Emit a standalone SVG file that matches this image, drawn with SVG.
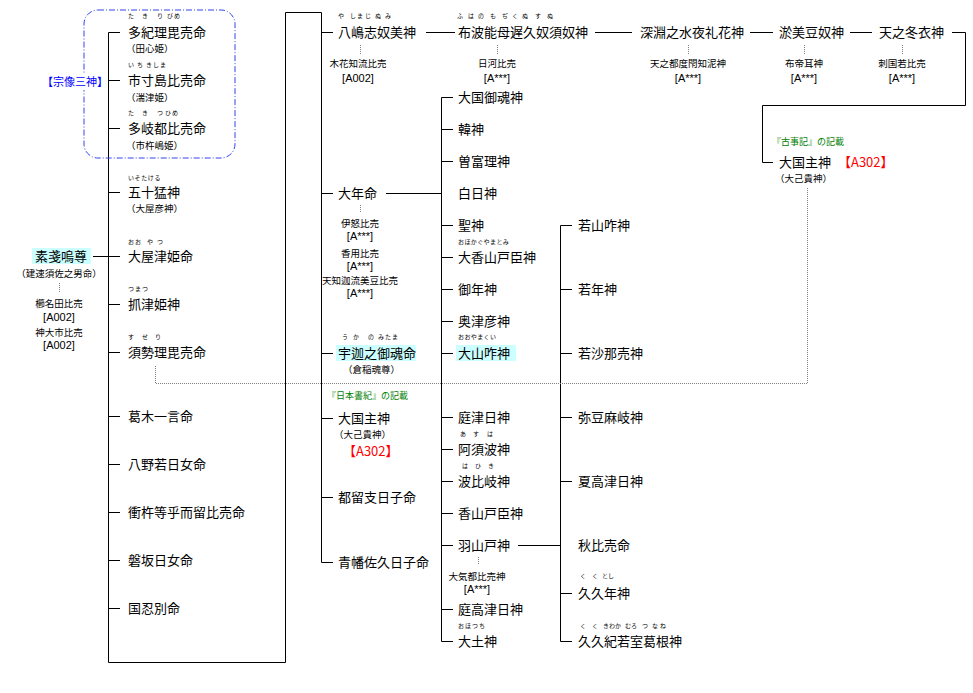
<svg xmlns="http://www.w3.org/2000/svg" width="973" height="693" viewBox="0 0 973 693">
<style>
text{font-family:"Noto Sans CJK JP","Noto Sans CJK SC",sans-serif;fill:#000}
.m{font-size:13px}
.s{font-size:9.5px}
.k{font-family:"Liberation Sans",Arial,sans-serif;font-size:11px}
.c{text-anchor:middle}
.r{font-size:6px}
.g{font-size:9px;fill:#008000}
.red{font-size:13px;fill:#ff0000}
.blue{font-size:11px;fill:#0000ff}
.hl{fill:#ccffff}
.ln{fill:none;stroke:#000;stroke-width:1}
.dot{fill:none;stroke:#808080;stroke-width:1;stroke-dasharray:1 1}
</style>
<rect width="973" height="693" fill="#fff"/>

<g id="connectors">
<path class="ln" d="M120 32.5H108.5V662.5H285.5V12.5H321.5V562.5H333
M108 80.5H120M108 128.5H120M108 192.5H120M93 256.5H120M108 304.5H120M108 352.5H120M108 416.5H120M108 464.5H120M108 512.5H120M108 560.5H120M108 608.5H120
M321 32.5H333M321 193.5H333M321 353.5H333M321 418.5H333M321 497.5H333
M386 193.5H441
M453 97.5H441.5V641.5H453
M441 129.5H453M441 161.5H453M441 225.5H453M441 257.5H453M441 289.5H453M441 321.5H453M441 353.5H453M441 417.5H453M441 449.5H453M441 481.5H453M441 513.5H453M441 545.5H453M441 609.5H453
M518 545.5H560
M572 225.5H560.5V641.5H572
M560 289.5H572M560 353.5H572M560 417.5H572M560 481.5H572M560 593.5H572
M426 32.5H455M595 32.5H632M750 32.5H773M850 32.5H872
M952 32.5H965.5V105.5H762.5V162.5H773"/>
<path class="dot" d="M360.5 45V55M497.5 45V55M688.5 45V55M804.5 45V55M902.5 45V55M360.5 205V213M478.5 557V565M59.5 283V293M807.5 188V383.5H155.5V365"/>
</g>

<g id="munakata">
<rect x="84" y="10" width="151" height="148" rx="14" fill="none" stroke="#3344ee" stroke-width="1" stroke-dasharray="6 2 1 2"/>
<rect x="40" y="74" width="62" height="16" fill="#fff"/>
<text class="blue" x="42" y="86">【宗像三神】</text>
</g>

<g id="susanoo">
<rect class="hl" x="32" y="248" width="59" height="16"/>
<text class="m c" x="61" y="261">素戔嗚尊</text>
<text class="s c" x="59" y="277">（建速須佐之男命）</text>
<text class="s c" x="59" y="307">櫛名田比売</text>
<text class="k c" x="59" y="321">[A002]</text>
<text class="s c" x="59" y="336">神大市比売</text>
<text class="k c" x="59" y="349">[A002]</text>
</g>

<g id="tagiri"><text class="r" x="128 142 157 167 174" y="18">たきりびめ</text><text class="m" x="128" y="37">多紀理毘売命</text><text class="s" x="126" y="52">（田心姫）</text></g>
<g id="ichikishima"><text class="r" x="128 137 146 153 160" y="67">いちきしま</text><text class="m" x="128" y="85">市寸島比売命</text><text class="s" x="126" y="101">（湍津姫）</text></g>
<g id="tagitsu"><text class="r" x="128 142 157 165 172" y="115">たきつひめ</text><text class="m" x="128" y="133">多岐都比売命</text><text class="s" x="126" y="149">（市杵嶋姫）</text></g>
<g id="isotakeru"><text class="r" x="128 134.6 141.2 147.8 154.4" y="180">いそたける</text><text class="m" x="128" y="197">五十猛神</text><text class="s" x="126" y="212">（大屋彦神）</text></g>
<g id="ooyatsu"><text class="r" x="128 135 147 157" y="244">おおやつ</text><text class="m" x="128" y="261">大屋津姫命</text></g>
<g id="tsumatsu"><text class="r" x="128 135 142" y="291">つまつ</text><text class="m" x="128" y="309">抓津姫神</text></g>
<g id="suseri"><text class="r" x="128 142 155" y="339">すせり</text><text class="m" x="128" y="357">須勢理毘売命</text></g>
<g id="katsuragi"><text class="m" x="128" y="421">葛木一言命</text></g>
<g id="yanowaka"><text class="m" x="128" y="469">八野若日女命</text></g>
<g id="tsukine"><text class="m" x="128" y="517">衝杵等乎而留比売命</text></g>
<g id="iwasaka"><text class="m" x="128" y="565">磐坂日女命</text></g>
<g id="kunioshiwake"><text class="m" x="128" y="613">国忍別命</text></g>

<g id="yashimajinumi"><text class="r" x="338 350 357 365 375 385" y="18">やしまじぬみ</text><text class="m" x="338" y="37">八嶋志奴美神</text><text class="s c" x="358" y="67">木花知流比売</text><text class="k c" x="358" y="82">[A002]</text></g>
<g id="fuhanomoji"><text class="r" x="457 468 478 490 502 512 522 535 547" y="18">ふはのもぢくぬすぬ</text><text class="m" x="458" y="37">布波能母遅久奴須奴神</text><text class="s c" x="497" y="67">日河比売</text><text class="k c" x="497" y="82">[A***]</text></g>
<g id="fukabuchi"><text class="m" x="640" y="37">深淵之水夜礼花神</text><text class="s c" x="688" y="67">天之都度閇知泥神</text><text class="k c" x="688" y="82">[A***]</text></g>
<g id="omizunu"><text class="m" x="779" y="37">淤美豆奴神</text><text class="s c" x="804" y="67">布帝耳神</text><text class="k c" x="804" y="82">[A***]</text></g>
<g id="amenofuyukinu"><text class="m" x="879" y="37">天之冬衣神</text><text class="s c" x="902" y="67">刺国若比売</text><text class="k c" x="902" y="82">[A***]</text></g>
<g id="okuninushi-kojiki"><text class="g" x="772" y="144.5">『古事記』の記載</text><text class="m" x="779" y="167">大国主神</text><text class="red" x="838" y="167">【A302】</text><text class="s" x="775" y="182">（大己貴神）</text></g>

<g id="otoshi"><text class="m" x="338" y="198">大年命</text><text class="s c" x="360" y="227">伊怒比売</text><text class="k c" x="360" y="240">[A***]</text><text class="s c" x="360" y="257">香用比売</text><text class="k c" x="360" y="270">[A***]</text><text class="s c" x="360" y="284">天知迦流美豆比売</text><text class="k c" x="360" y="297">[A***]</text></g>
<g id="ukanomitama"><rect class="hl" x="336" y="345" width="80" height="16"/><text class="r" x="342 353 368 378 385 392" y="339">うかのみたま</text><text class="m" x="338" y="358">宇迦之御魂命</text><text class="s" x="343" y="373">（倉稲魂尊）</text></g>
<g id="okuninushi-shoki"><text class="g" x="327" y="398.5">『日本書紀』の記載</text><text class="m" x="338" y="423">大国主神</text><text class="s" x="334" y="438">（大己貴神）</text><text class="red" x="343" y="456">【A302】</text></g>
<g id="tsurugi"><text class="m" x="338" y="502">都留支日子命</text></g>
<g id="aohata"><text class="m" x="338" y="567">青幡佐久日子命</text></g>

<g id="okunimitama"><text class="m" x="458" y="102">大国御魂神</text></g>
<g id="karakami"><text class="m" x="458" y="134">韓神</text></g>
<g id="sohori"><text class="m" x="458" y="166">曽富理神</text></g>
<g id="shirahi"><text class="m" x="458" y="198">白日神</text></g>
<g id="hijiri"><text class="m" x="458" y="230">聖神</text></g>
<g id="okagayamatomi"><text class="r" x="458 464.4 470.8 477.2 483.6 490 496.4 502.8" y="244">おほかぐやまとみ</text><text class="m" x="458" y="262">大香山戸臣神</text></g>
<g id="mitoshi"><text class="m" x="458" y="294">御年神</text></g>
<g id="okitsuhiko"><text class="m" x="458" y="326">奥津彦神</text></g>
<g id="oyamakui"><rect class="hl" x="456" y="345" width="60" height="16"/><text class="r" x="458 464.4 470.8 477.2 483.6 490" y="339">おおやまくい</text><text class="m" x="458" y="358">大山咋神</text></g>
<g id="niwatsuhi"><text class="m" x="458" y="422">庭津日神</text></g>
<g id="asuha"><text class="r" x="460 473 487" y="436">あすは</text><text class="m" x="458" y="454">阿須波神</text></g>
<g id="hahiki"><text class="r" x="462 475 488" y="468">はひき</text><text class="m" x="458" y="486">波比岐神</text></g>
<g id="kagayamatomi"><text class="m" x="458" y="518">香山戸臣神</text></g>
<g id="hayamato"><text class="m" x="458" y="550">羽山戸神</text><text class="s c" x="477" y="580">大気都比売神</text><text class="k c" x="477" y="593">[A***]</text></g>
<g id="niwatakatsuhi"><text class="m" x="458" y="614">庭高津日神</text></g>
<g id="otsuchi"><text class="r" x="458 465 472 479" y="628">おほつち</text><text class="m" x="458" y="646">大土神</text></g>

<g id="wakayamakui"><text class="m" x="578" y="230">若山咋神</text></g>
<g id="wakatoshi"><text class="m" x="578" y="294">若年神</text></g>
<g id="wakasaname"><text class="m" x="578" y="358">若沙那売神</text></g>
<g id="mizumaki"><text class="m" x="578" y="422">弥豆麻岐神</text></g>
<g id="natsutakatsuhi"><text class="m" x="578" y="486">夏高津日神</text></g>
<g id="akibime"><text class="m" x="578" y="550">秋比売命</text></g>
<g id="kukutoshi"><text class="r" x="580 592 602 608" y="578">くくとし</text><text class="m" x="578" y="598">久久年神</text></g>
<g id="kukukiwaka"><text class="r" x="580 592 603 609 615 625 631 642 652 660" y="628">くくきわかむろつなね</text><text class="m" x="578" y="646">久久紀若室葛根神</text></g>
</svg>
